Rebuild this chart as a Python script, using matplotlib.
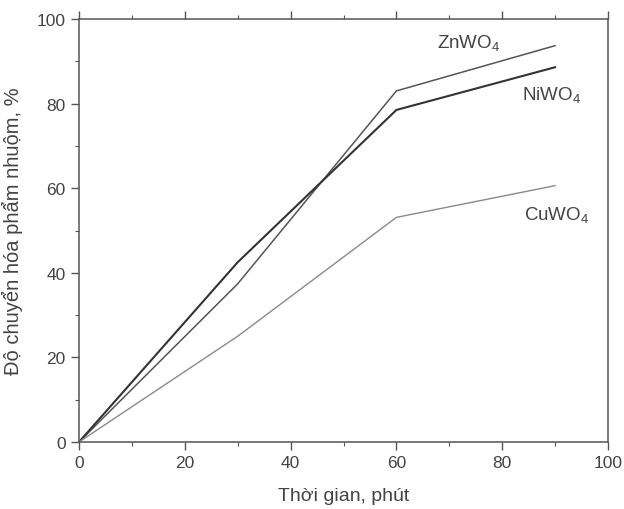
import matplotlib
matplotlib.use("Agg")
from matplotlib import pyplot as plt
from matplotlib.ticker import MultipleLocator

# time, minutes
time_min = [0, 30, 60, 90]
# conversion of dye, %
znwo4 = [0, 37.4, 83.0, 93.7]
niwo4 = [0, 42.5, 78.5, 88.6]
cuwo4 = [0, 25.0, 53.1, 60.6]

plt.rcParams['font.family'] = ['Liberation Sans', 'DejaVu Sans']
plt.rcParams['mathtext.default'] = 'regular'

text_col = '#444444'
fig = plt.figure(figsize=(6.24, 5.10), dpi=100)
ax = fig.add_axes([79 / 624, 1 - 443 / 510, 529 / 624, 423 / 510])

ax.plot(time_min, znwo4, color='#555555', lw=1.1)
ax.plot(time_min, niwo4, color='#333333', lw=1.5)
ax.plot(time_min, cuwo4, color='#8a8a8a', lw=1.0)

ax.text(67.7, 94.5, 'ZnWO$_4$', fontsize=13.5, color=text_col, va='center')
ax.text(83.8, 82.2, 'NiWO$_4$', fontsize=13.5, color=text_col, va='center')
ax.text(84.2, 54.0, 'CuWO$_4$', fontsize=13.5, color=text_col, va='center')

ax.set_xlim(0, 100)
ax.set_ylim(0, 100)
ax.xaxis.set_major_locator(MultipleLocator(20))
ax.xaxis.set_minor_locator(MultipleLocator(10))
ax.yaxis.set_major_locator(MultipleLocator(20))
ax.yaxis.set_minor_locator(MultipleLocator(10))
ax.tick_params(which='both', direction='out', top=True, right=False,
               colors='#555555', labelcolor=text_col, labelsize=12.5)
ax.tick_params(which='major', length=6, width=1)
ax.tick_params(which='minor', length=3, width=0.8)
for side in ax.spines.values():
    side.set_color('#555555')
    side.set_linewidth(1.1)

ax.set_xlabel('Thời gian, phút', fontsize=14, color=text_col, labelpad=12)
ax.set_ylabel('Độ chuyển hóa phẩm nhuộm, %', fontsize=14.5, color=text_col, labelpad=10)

fig.savefig('out.png', dpi=100)
